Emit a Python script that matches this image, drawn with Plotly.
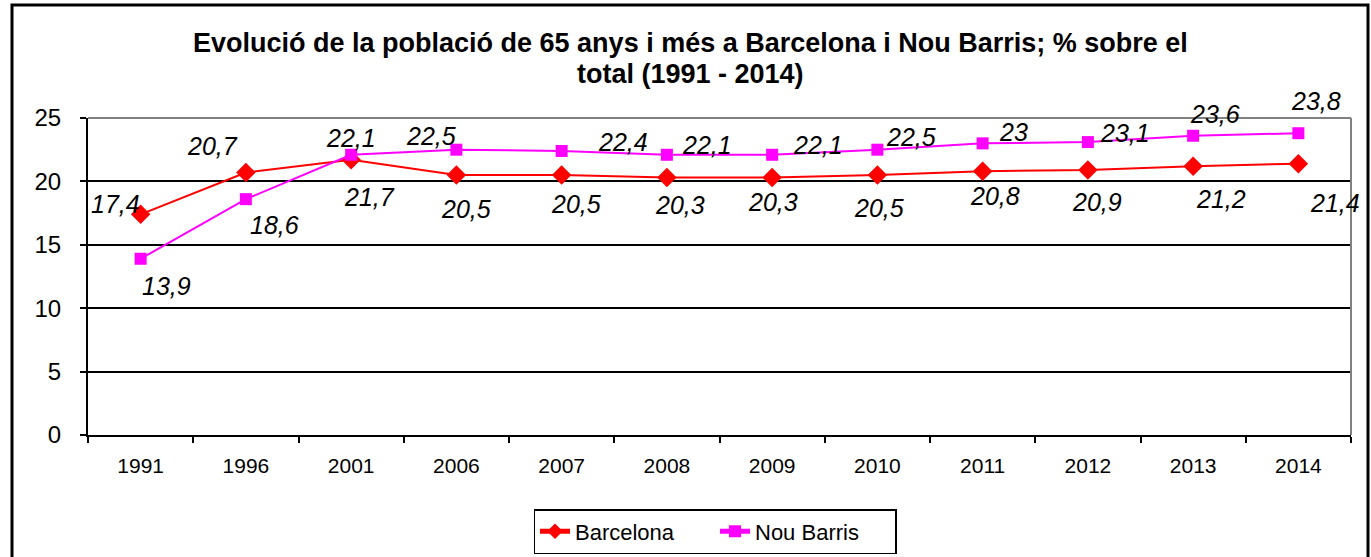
import plotly.graph_objects as go

# Data
years = ["1991", "1996", "2001", "2006", "2007", "2008", "2009", "2010", "2011", "2012", "2013", "2014"]
barcelona = [17.4, 20.7, 21.7, 20.5, 20.5, 20.3, 20.3, 20.5, 20.8, 20.9, 21.2, 21.4]
nou_barris = [13.9, 18.6, 22.1, 22.5, 22.4, 22.1, 22.1, 22.5, 23.0, 23.1, 23.6, 23.8]

# Label offsets in pixels (dx right, dy up) relative to each marker
bcn_label_dx = [-25, -33, 18, 10, 14, 13, 1, 2, 12, 9, 28, 37]
bcn_label_dy = [10, 27, -37, -34, -29, -27, -24, -33, -25, -32, -33, -39]
nb_label_dx = [26, 29, 0, -25, 61, 40, 46, 34, 31, 37, 22, 18]
nb_label_dy = [-27, -26, 17, 14, 9, 10, 10, 13, 11, 9, 22, 32]

FONT = "Arial, Liberation Sans, sans-serif"
W, H = 1371, 557
ML, MR, MT, MB = 88, 20, 118, 122
PW, PH = W - ML - MR, H - MT - MB


def px_x(px):
    return (px - ML) / PW


def px_y(py):
    return (H - MB - py) / PH


def fmt(v):
    s = f"{v:.1f}"
    if s.endswith(".0"):
        s = s[:-2]
    return s.replace(".", ",")


fig = go.Figure()
fig.add_trace(go.Scatter(
    x=years, y=barcelona, name="Barcelona", mode="lines+markers",
    line=dict(color="#FF0000", width=2),
    marker=dict(symbol="diamond", size=15, color="#FF0000"),
))
fig.add_trace(go.Scatter(
    x=years, y=nou_barris, name="Nou Barris", mode="lines+markers",
    line=dict(color="#FF00FF", width=2),
    marker=dict(symbol="square", size=12, color="#FF00FF"),
))

# Data labels, placed by category index on the category axis
annotations = []
for i, (v, dx, dy) in enumerate(zip(barcelona, bcn_label_dx, bcn_label_dy)):
    annotations.append(dict(x=i, y=v, xref="x", yref="y", text=f"<i>{fmt(v)}</i>",
                            showarrow=False, xshift=dx, yshift=dy,
                            font=dict(family=FONT, size=25, color="black")))
for i, (v, dx, dy) in enumerate(zip(nou_barris, nb_label_dx, nb_label_dy)):
    annotations.append(dict(x=i, y=v, xref="x", yref="y", text=f"<i>{fmt(v)}</i>",
                            showarrow=False, xshift=dx, yshift=dy,
                            font=dict(family=FONT, size=25, color="black")))

# Two-line bold title
annotations.append(dict(x=px_x(690), y=px_y(43), xref="paper", yref="paper",
                        text="<b>Evolució de la població de 65 anys i més a Barcelona i Nou Barris; % sobre el</b>",
                        showarrow=False, xanchor="center", yanchor="middle",
                        font=dict(family=FONT, size=27, color="black")))
annotations.append(dict(x=px_x(690), y=px_y(74), xref="paper", yref="paper",
                        text="<b>total (1991 - 2014)</b>",
                        showarrow=False, xanchor="center", yanchor="middle",
                        font=dict(family=FONT, size=27, color="black")))

shapes = [
    # outer chart frame
    dict(type="rect", xref="paper", yref="paper",
         x0=px_x(12), x1=px_x(1368), y0=px_y(562), y1=px_y(5),
         line=dict(color="black", width=3), layer="below"),
    # grey plot-area border on top and right
    dict(type="line", xref="paper", yref="paper", x0=0, x1=1, y0=1, y1=1,
         line=dict(color="#808080", width=2)),
    dict(type="line", xref="paper", yref="paper", x0=1, x1=1, y0=0, y1=1,
         line=dict(color="#808080", width=2)),
]

fig.update_layout(
    width=W, height=H,
    margin=dict(l=ML, r=MR, t=MT, b=MB, autoexpand=False),
    paper_bgcolor="white", plot_bgcolor="white",
    font=dict(family=FONT, color="black"),
    showlegend=True,
    legend=dict(orientation="h", xref="container", yref="container",
                x=715 / W, xanchor="center", y=(H - 509) / H, yanchor="top",
                bordercolor="black", borderwidth=1.5, bgcolor="white",
                font=dict(family=FONT, size=22, color="black"),
                entrywidth=135, entrywidthmode="pixels",
                itemsizing="constant", tracegroupgap=0),
    annotations=annotations,
    shapes=shapes,
)

fig.update_xaxes(
    type="category", range=[-0.5, 11.5],
    showline=True, linecolor="black", linewidth=2,
    ticks="outside", tickson="boundaries", ticklen=6, tickwidth=2, tickcolor="black",
    showgrid=False, ticklabelstandoff=11,
    tickfont=dict(family=FONT, size=21, color="black"),
)
fig.update_yaxes(
    range=[0, 25], tickvals=[0, 5, 10, 15, 20, 25],
    showline=True, linecolor="black", linewidth=2,
    ticks="outside", ticklen=6, tickwidth=2, tickcolor="black",
    showgrid=True, gridcolor="black", gridwidth=2, zeroline=False,
    ticklabelstandoff=14,
    tickfont=dict(family=FONT, size=24, color="black"),
)

fig.write_html("out.html")
